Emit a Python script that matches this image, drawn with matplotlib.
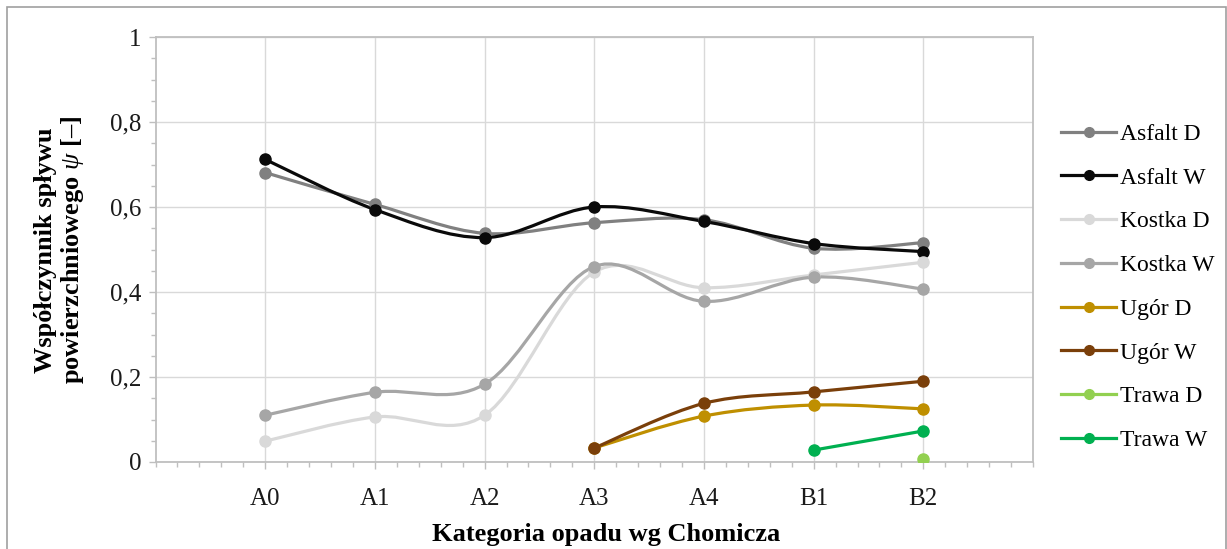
import numpy as np
import matplotlib
matplotlib.use("Agg")
import matplotlib.pyplot as plt
from matplotlib.path import Path
from matplotlib.patches import PathPatch, Rectangle
from matplotlib.lines import Line2D
from matplotlib.ticker import MultipleLocator

plt.rcParams['font.family'] = ['Liberation Serif', 'DejaVu Serif']
plt.rcParams['mathtext.fontset'] = 'custom'
plt.rcParams['mathtext.rm'] = 'Liberation Serif'
plt.rcParams['mathtext.it'] = 'Liberation Serif:italic'
plt.rcParams['mathtext.bf'] = 'Liberation Serif:bold'

# Rainfall categories (Chomicz classification)
categories = ["A0", "A1", "A2", "A3", "A4", "B1", "B2"]

# Runoff coefficient per surface (None = no measurement)
asfalt_d = [0.681, 0.606, 0.538, 0.563, 0.570, 0.503, 0.516]
asfalt_w = [0.712, 0.594, 0.528, 0.600, 0.566, 0.514, 0.495]
kostka_d = [0.049, 0.106, 0.110, 0.447, 0.410, 0.440, 0.470]
kostka_w = [0.110, 0.164, 0.183, 0.460, 0.378, 0.435, 0.407]
ugor_d = [None, None, None, 0.033, 0.108, 0.134, 0.125]
ugor_w = [None, None, None, 0.033, 0.138, 0.165, 0.190]
trawa_d = [None, None, None, None, None, None, 0.007]
trawa_w = [None, None, None, None, None, 0.028, 0.073]

series_names = ["Asfalt D", "Asfalt W", "Kostka D", "Kostka W",
                "Ugór D", "Ugór W", "Trawa D", "Trawa W"]
series_values = [asfalt_d, asfalt_w, kostka_d, kostka_w,
                 ugor_d, ugor_w, trawa_d, trawa_w]
series_colors = ["#808080", "#0a0a0a", "#d9d9d9", "#a6a6a6",
                 "#bf8f00", "#7a3f0a", "#92d050", "#00b050"]

y_ticks = [0, 0.2, 0.4, 0.6, 0.8, 1.0]
y_tick_labels = ["0", "0,2", "0,4", "0,6", "0,8", "1"]


def smooth_path(xs, ys):
    """Cardinal (Catmull-Rom) Bezier path through the given points."""
    pts = np.column_stack([xs, ys]).astype(float)
    n = len(pts)
    verts = [pts[0]]
    codes = [Path.MOVETO]
    for i in range(n - 1):
        p0 = pts[i - 1] if i > 0 else pts[i]
        p1 = pts[i]
        p2 = pts[i + 1]
        p3 = pts[i + 2] if i + 2 < n else pts[i + 1]
        c1 = p1 + (p2 - p0) / 6.0
        c2 = p2 - (p3 - p1) / 6.0
        verts += [c1, c2, p2]
        codes += [Path.CURVE4] * 3
    return Path(verts, codes)


W, H = 1227, 549
fig = plt.figure(figsize=(W / 100, H / 100), dpi=100)
fig.patch.set_facecolor("white")

# Outer frame (open at the bottom edge of the image)
fig.patches.append(Rectangle((7 / W, -0.02), (1226 - 7) / W, (H - 7) / H + 0.02,
                             transform=fig.transFigure, fill=False,
                             edgecolor="#a0a0a0", linewidth=1.2))

ax = fig.add_axes([155.5 / W, 1 - 462 / H, (1033 - 155.5) / W, (462 - 37) / H])
ax.set_xlim(-1, 7)
ax.set_ylim(0, 1)

ax.set_xticks(range(len(categories)))
ax.set_xticklabels(categories)
ax.xaxis.set_minor_locator(MultipleLocator(0.2))
ax.set_yticks(y_ticks)
ax.set_yticklabels(y_tick_labels)
ax.yaxis.set_minor_locator(MultipleLocator(0.05))

ax.grid(True, which="major", color="#d9d9d9", linewidth=1.0)
ax.set_axisbelow(True)
for sp in ax.spines.values():
    sp.set_color("#bfbfbf")
    sp.set_linewidth(1.3)

ax.tick_params(axis="both", which="major", direction="out", length=5,
               color="#bfbfbf", width=1.0, labelsize=18, labelcolor="#1a1a1a")
ax.tick_params(axis="both", which="minor", direction="out", length=3.5,
               color="#bfbfbf", width=1.0)
ax.tick_params(axis="x", which="major", pad=14)
ax.tick_params(axis="y", which="major", pad=5)

handles = []
for name, vals, col in zip(series_names, series_values, series_colors):
    xs = [i for i, v in enumerate(vals) if v is not None]
    ys = [v for v in vals if v is not None]
    if len(xs) > 1:
        patch = PathPatch(smooth_path(xs, ys), facecolor="none",
                          edgecolor=col, linewidth=2.3, capstyle="round",
                          joinstyle="round", zorder=3)
        ax.add_patch(patch)
    ax.plot(xs, ys, linestyle="none", marker="o", markersize=8,
            color=col, zorder=4)
    handles.append(Line2D([], [], color=col, linewidth=2.3, marker="o",
                          markersize=7, label=name))

ax.legend(handles=handles, loc="upper left",
          bbox_to_anchor=(1052 / W, 1 - 114 / H),
          bbox_transform=fig.transFigure, frameon=False, fontsize=17,
          handlelength=2.3, handletextpad=0.2, labelspacing=0.94,
          borderaxespad=0)

fig.text(606 / W, 1 - 534 / H, "Kategoria opadu wg Chomicza",
         ha="center", va="center", fontsize=19, fontweight="bold")
fig.text(60 / W, 1 - 250 / H,
         "Współczynnik spływu\npowierzchniowego $\\psi$ [–]",
         ha="center", va="center", rotation=90, fontsize=19,
         fontweight="bold", multialignment="center", linespacing=1.1)

fig.savefig("out.png", dpi=100, facecolor="white")
